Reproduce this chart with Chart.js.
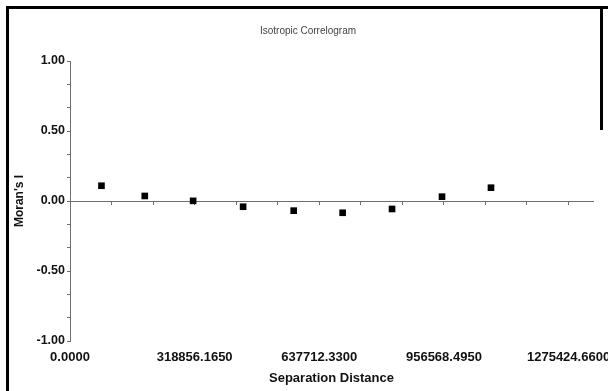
<!DOCTYPE html>
<html>
<head>
<meta charset="utf-8">
<script src="https://cdn.jsdelivr.net/npm/chart.js@4/dist/chart.umd.min.js"></script>
<style>
  body { margin: 0; background: #fff; }
  #caja { position: relative; width: 608px; height: 391px; overflow: hidden; }
  #grafico { position: absolute; left: 0; top: 0; }
  #marco { position: absolute; left: 6px; top: 6px; right: 0; bottom: -10px;
    border-left: 3px solid #000; border-top: 3px solid #000; pointer-events: none; }
  #lado { position: absolute; left: 600px; top: 6px; width: 3px; height: 124px; background: #000; }
</style>
</head>
<body>
<div id="caja">
  <canvas id="grafico" width="608" height="391"></canvas>
  <div id="marco"></div>
  <div id="lado"></div>
</div>
<script>
// datos del correlograma
const distancias = [80500, 191300, 315000, 442900, 572300, 697500, 823900, 951700, 1077000];
const moranI = [0.109, 0.036, 0.001, -0.041, -0.069, -0.084, -0.057, 0.031, 0.095];

// marcas del eje x (las que llevan texto)
const xEtiquetas = [0, 318856.165, 637712.33, 956568.495, 1275424.66];
const xMax = 1338000;
const yEtiquetas = [-1, -0.5, 0, 0.5, 1];
const subdivisiones = 3;

const yPaso = (yEtiquetas[1] - yEtiquetas[0]) / subdivisiones;

// marcas pequeñas entre etiquetas
const xMarcas = [];
xEtiquetas.forEach((v, i) => {
  xMarcas.push(v);
  if (i < xEtiquetas.length - 1) {
    const paso = (xEtiquetas[i + 1] - v) / subdivisiones;
    for (let k = 1; k < subdivisiones; k++) xMarcas.push(v + paso * k);
  }
});

const fuente = "Arial, 'Liberation Sans', sans-serif";
const gris = '#6e6e6e';

const puntos = distancias.map((d, i) => ({ x: d, y: moranI[i] }));
const ponerMarcasX = (escala) => { escala.ticks = xMarcas.map(v => ({ value: v })); };

const ctx = document.getElementById('grafico').getContext('2d');
const grafico = new Chart(ctx, {
  type: 'scatter',
  data: {
    datasets: [{
      label: "Moran's I",
      data: puntos,
      xAxisID: 'x',
      yAxisID: 'y',
      pointStyle: 'rect',
      pointRadius: 4.7,
      pointHoverRadius: 4.7,
      pointBorderWidth: 0,
      backgroundColor: '#000',
      borderColor: '#000'
    }]
  },
  options: {
    responsive: false,
    animation: false,
    events: [],
    layout: { padding: { left: 23, right: 15, top: 0, bottom: 0 } },
    plugins: {
      legend: { display: false },
      tooltip: { enabled: false },
      title: {
        display: true,
        text: 'Isotropic Correlogram',
        color: '#444',
        font: { family: fuente, size: 10, weight: 'normal' },
        padding: { top: 25, bottom: 24 }
      }
    },
    scales: {
      x: {
        type: 'linear',
        position: 'bottom',
        min: 0,
        max: xMax,
        afterBuildTicks: ponerMarcasX,
        afterFit: (escala) => {
          escala.height = 50;
          escala.paddingLeft = 0;
          escala.paddingRight = 0;
        },
        grid: { display: false, drawTicks: false },
        border: { display: false },
        ticks: {
          autoSkip: false,
          maxRotation: 0,
          padding: 9,
          color: '#111',
          font: { family: fuente, size: 13, weight: 'bold' },
          callback: (valor, indice) => indice % subdivisiones === 0 ? valor.toFixed(4) : ''
        },
        title: {
          display: true,
          text: 'Separation Distance',
          color: '#111',
          font: { family: fuente, size: 13, weight: 'bold' },
          padding: { top: 0, bottom: 5 }
        }
      },
      x0: {
        type: 'linear',
        axis: 'x',
        position: { y: 0 },
        min: 0,
        max: xMax,
        afterBuildTicks: ponerMarcasX,
        afterFit: (escala) => {
          escala.paddingLeft = 0;
          escala.paddingRight = 0;
        },
        grid: { drawOnChartArea: false, drawTicks: true, tickLength: 3, color: gris },
        border: { display: true, color: gris, width: 1 },
        ticks: { display: false, autoSkip: false }
      },
      y: {
        type: 'linear',
        position: 'left',
        min: yEtiquetas[0],
        max: yEtiquetas[yEtiquetas.length - 1],
        afterFit: (escala) => { escala.width = 47; },
        grid: { drawOnChartArea: false, drawTicks: true, tickLength: 3, color: gris },
        border: { display: true, color: gris, width: 1 },
        ticks: {
          stepSize: yPaso,
          maxTicksLimit: 30,
          autoSkip: false,
          padding: 2,
          color: '#111',
          font: { family: fuente, size: 12.5, weight: 'bold' },
          callback: (valor) => {
            const medio = Math.round(valor * 2) / 2;
            return Math.abs(valor - medio) < 1e-6 ? medio.toFixed(2) : '';
          }
        },
        title: {
          display: true,
          text: "Moran's I",
          color: '#111',
          font: { family: fuente, size: 12, weight: 'bold' },
          padding: { top: -11, bottom: 0 }
        }
      }
    }
  }
});
</script>
</body>
</html>
